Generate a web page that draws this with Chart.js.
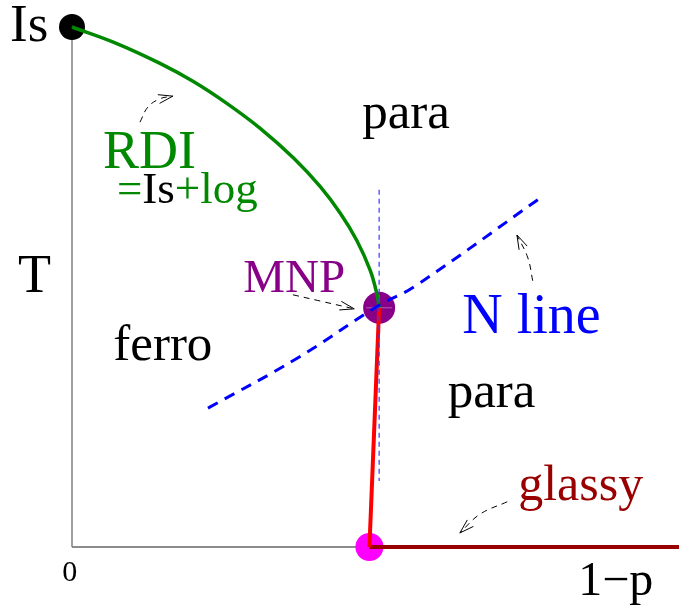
<!DOCTYPE html>
<html>
<head>
<meta charset="utf-8">
<script src="https://cdn.jsdelivr.net/npm/chart.js@4.4.1/dist/chart.umd.min.js"></script>
<style>
  body { margin: 0; background: #fff; }
</style>
</head>
<body>
<canvas id="c" width="679" height="610"></canvas>
<script>
// x = 1-p, y = T (both scaled 0..1 over the plot box)
const rdiLine = [
  { x: 0.0, y: 1.0 }, { x: 0.07, y: 0.97 }, { x: 0.145, y: 0.93 },
  { x: 0.2, y: 0.895 }, { x: 0.255, y: 0.853 }, { x: 0.31, y: 0.805 },
  { x: 0.365, y: 0.748 }, { x: 0.409, y: 0.693 }, { x: 0.442, y: 0.642 },
  { x: 0.469, y: 0.59 }, { x: 0.491, y: 0.533 }, { x: 0.502, y: 0.488 },
  { x: 0.506, y: 0.46 },
];
const ferroLine = [{ x: 0.506, y: 0.46 }, { x: 0.49, y: 0.0 }];
const glassyLine = [{ x: 0.49, y: 0.0 }, { x: 1.0, y: 0.0 }];
const nLine = [
  { x: 0.224, y: 0.267 }, { x: 0.371, y: 0.363 }, { x: 0.506, y: 0.465 },
  { x: 0.563, y: 0.5 }, { x: 0.776, y: 0.675 },
];
const mnpVertical = [{ x: 0.506, y: 0.687 }, { x: 0.506, y: 0.127 }];
const axisT = [{ x: 0, y: 0 }, { x: 0, y: 1 }];
const axisP = [{ x: 0, y: 0 }, { x: 0.49, y: 0 }];

const isPoint = [{ x: 0, y: 1 }];
const mnpPoint = [{ x: 0.506, y: 0.46 }];
const glassyPoint = [{ x: 0.49, y: 0 }];

const arrows = [
  [{ x: 0.112, y: 0.817 }, { x: 0.125, y: 0.846 }, { x: 0.145, y: 0.862 }, { x: 0.166, y: 0.867 }],
  [{ x: 0.364, y: 0.485 }, { x: 0.409, y: 0.473 }, { x: 0.465, y: 0.458 }],
  [{ x: 0.759, y: 0.512 }, { x: 0.751, y: 0.556 }, { x: 0.733, y: 0.6 }],
  [{ x: 0.717, y: 0.087 }, { x: 0.672, y: 0.063 }, { x: 0.639, y: 0.027 }],
];

// text, x, y, colour, size
const labels = [
  ["Is", -0.102, 0.973, "#000", 53],
  ["T", -0.089, 0.49, "#000", 54],
  ["0", -0.016, -0.065, "#000", 30],
  ["1\u2212p", 0.834, -0.092, "#000", 48],
  ["ferro", 0.068, 0.36, "#000", 51],
  ["para", 0.478, 0.806, "#000", 51],
  ["para", 0.619, 0.269, "#000", 51],
  ["RDI", 0.051, 0.729, "#008800", 54],
  ["MNP", 0.282, 0.49, "#880088", 47],
  ["N line", 0.643, 0.412, "#0000ff", 56],
  ["glassy", 0.735, 0.09, "#990000", 50],
];
const rdiFormula = [["=", "#008800"], ["Is", "#000"], ["+log", "#008800"]];
const rdiFormulaAt = [0.074, 0.662, 45];

// lower order is drawn on top, so lines sit over the dots
const line = (data, color, width, extra) => Object.assign({
  data, borderColor: color, borderWidth: width, pointRadius: 0,
  showLine: true, fill: false, clip: false, order: 0,
}, extra || {});
const dot = (data, color, r) => ({
  data, backgroundColor: color, borderWidth: 0, pointRadius: r,
  pointHoverRadius: r, showLine: false, clip: false, order: 10,
});

const datasets = [
  line(axisT, "#808080", 1.5, { order: 20 }),
  line(axisP, "#666666", 1.5, { order: 20 }),
  dot(isPoint, "#000000", 13),
  dot(mnpPoint, "#880088", 16),
  dot(glassyPoint, "#ff00ff", 14),
  { data: mnpPoint, pointStyle: "cross", pointRadius: 13, borderColor: "rgba(255,255,255,0.35)", borderWidth: 1, showLine: false, clip: false, order: 5 },
  line(mnpVertical, "#3a3aff", 1.2, { borderDash: [5, 4] }),
  line(nLine, "#0000ff", 3, { borderDash: [11, 8], tension: 0.4 }),
  line(rdiLine, "#008800", 3.5, { tension: 0.4 }),
  line(ferroLine, "#ff0000", 4),
  line(glassyLine, "#990000", 4),
];
arrows.forEach((a) => datasets.push(line(a, "#000", 1, { borderDash: [6, 5], tension: 0.4, arrow: true })));

const textPlugin = {
  id: "texts",
  afterDatasetsDraw(chart) {
    const { ctx, scales: { x, y } } = chart;
    ctx.save();
    // arrow heads
    chart.data.datasets.forEach((ds) => {
      if (!ds.arrow) return;
      const n = ds.data.length;
      const p1 = ds.data[n - 2], p2 = ds.data[n - 1];
      const x1 = x.getPixelForValue(p1.x), y1 = y.getPixelForValue(p1.y);
      const x2 = x.getPixelForValue(p2.x), y2 = y.getPixelForValue(p2.y);
      const ang = Math.atan2(y2 - y1, x2 - x1);
      ctx.strokeStyle = "#000";
      ctx.lineWidth = 1;
      ctx.setLineDash([]);
      ctx.beginPath();
      [-0.3, 0.3].forEach((d) => {
        ctx.moveTo(x2, y2);
        ctx.lineTo(x2 - 15 * Math.cos(ang + d), y2 - 15 * Math.sin(ang + d));
      });
      ctx.stroke();
    });
    ctx.textBaseline = "alphabetic";
    ctx.textAlign = "left";
    labels.forEach(([t, lx, ly, c, s]) => {
      ctx.font = s + "px 'Liberation Serif'";
      ctx.fillStyle = c;
      ctx.fillText(t, x.getPixelForValue(lx), y.getPixelForValue(ly));
    });
    const [fx, fy, fs] = rdiFormulaAt;
    ctx.font = fs + "px 'Liberation Serif'";
    let px = x.getPixelForValue(fx);
    rdiFormula.forEach(([t, c]) => {
      ctx.fillStyle = c;
      ctx.fillText(t, px, y.getPixelForValue(fy));
      px += ctx.measureText(t).width;
    });
    ctx.restore();
  },
};

new Chart(document.getElementById("c"), {
  type: "scatter",
  data: { datasets },
  options: {
    responsive: false,
    animation: false,
    layout: { autoPadding: false, padding: { left: 72, right: 0, top: 27, bottom: 63 } },
    plugins: { legend: { display: false }, tooltip: { enabled: false } },
    scales: {
      x: { type: "linear", min: 0, max: 1, display: false },
      y: { type: "linear", min: 0, max: 1, display: false },
    },
  },
  plugins: [textPlugin],
});
</script>
</body>
</html>
